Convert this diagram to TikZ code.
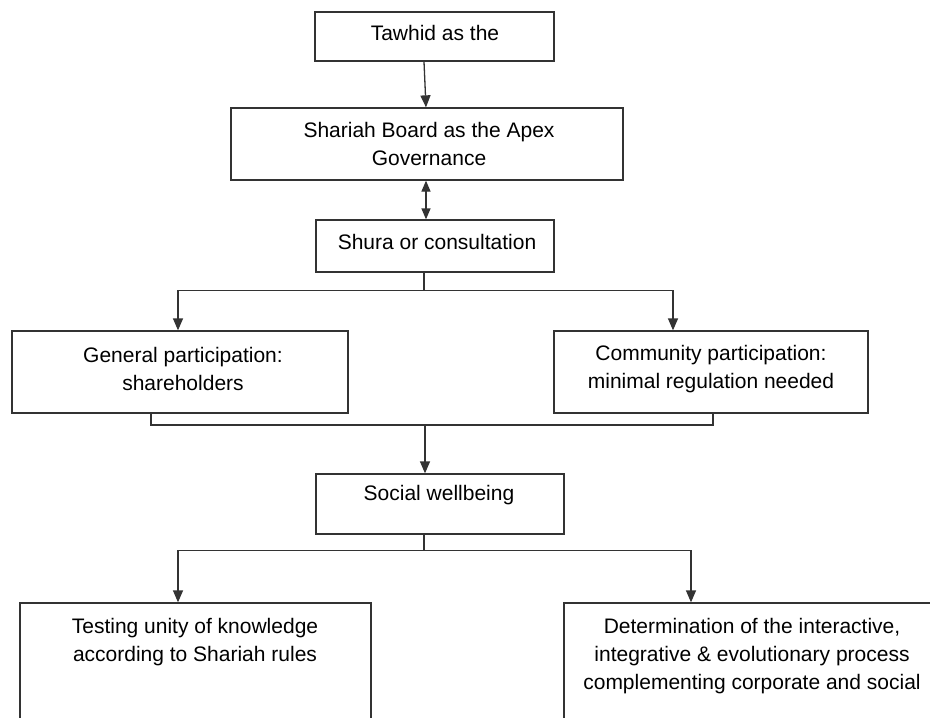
\documentclass[tikz,border=0pt]{standalone}
\usepackage{fontspec}
\setmainfont{Liberation Sans}
\usetikzlibrary{arrows.meta,calc}
\begin{document}
\begin{tikzpicture}[x=1pt,y=-1pt,
  lc/.style={draw=black!80, line width=1.3pt},
  box/.style={lc, rectangle, inner sep=0pt},
  lbl/.style={align=center, inner sep=0pt, font=\fontsize{21}{28}\selectfont, text=black},
  arr/.style={lc, -{Triangle[length=12pt,width=10pt]}},
  darr/.style={lc, {Triangle[length=11pt,width=9pt]}-{Triangle[length=11pt,width=9pt]}},
  ln/.style={lc}]
\clip (0,0) rectangle (930,718);
\fill[white] (0,0) rectangle (930,718);
% boxes
\node[box, minimum width=239pt, minimum height=49pt] (tawhid) at (434.5,36.5) {};
\node[box, minimum width=392pt, minimum height=72pt] (shariah) at (427,144) {};
\node[box, minimum width=238pt, minimum height=52pt] (shura) at (435,246) {};
\node[box, minimum width=336pt, minimum height=82pt] (general) at (180,372) {};
\node[box, minimum width=314pt, minimum height=82pt] (community) at (711,372) {};
\node[box, minimum width=248pt, minimum height=60pt] (social) at (440,504) {};
\node[box, minimum width=351pt, minimum height=160pt] (testing) at (195.5,683) {};
\node[box, minimum width=386pt, minimum height=160pt] (determ) at (757,683) {};
% texts
\node[lbl] (t1) at (435,33) {Tawhid as the};
\node[lbl] (t2) at (429,144) {Shariah Board as the Apex\\Governance};
\node[lbl] (t3) at (437,242) {Shura or consultation};
\node[lbl] (t4) at (183,369) {General participation:\\shareholders};
\node[lbl] (t5) at (711,369) {Community participation:\\minimal regulation needed};
\node[lbl] (t6) at (439,495) {Social wellbeing};
\node[lbl] (t7) at (195,642) {Testing unity of knowledge\\according to Shariah rules};
\node[lbl] (t8) at (752,656) {Determination of the interactive,\\integrative \& evolutionary process\\complementing corporate and social};
% connectors
\draw[arr] ($(tawhid.south)+(-10.5,0)$) -- ($(shariah.north)+(-1,0)$);
\draw[darr] ($(shariah.south)+(-1,0)$) -- ($(shariah.south |- shura.north)+(-1,0)$);
\coordinate (j1) at ($(shura.south)+(-11,18)$);
\draw[ln] ($(shura.south)+(-11,0)$) -- (j1);
\draw[arr] (j1) -| (general.north -| 178,0);
\draw[arr] (j1) -| (community.north -| 673,0);
\coordinate (j2) at (425,425);
\draw[ln] (general.south -| 151,0) |- (j2) -| (community.south -| 713,0);
\draw[arr] (j2) -- (social.north -| j2);
\coordinate (j3) at ($(social.south)+(-16,16)$);
\draw[ln] ($(social.south)+(-16,0)$) -- (j3);
\draw[arr] (j3) -| (testing.north -| 178,0);
\draw[arr] (j3) -| (determ.north -| 691,0);
\end{tikzpicture}
\end{document}
